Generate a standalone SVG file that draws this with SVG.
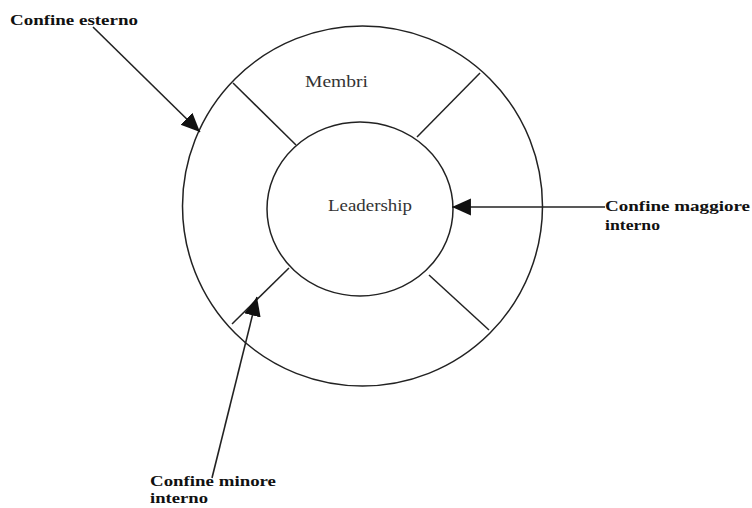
<svg xmlns="http://www.w3.org/2000/svg" width="752" height="508" viewBox="0 0 752 508">
<defs>
<style>
.shape{fill:none;stroke:#222;stroke-width:1.5}
.conn{fill:none;stroke:#222;stroke-width:1.6}
.lbl{font-family:"Liberation Serif","Times New Roman",serif;font-weight:bold;font-size:15px;fill:#111}
.inner{font-family:"Liberation Serif","Times New Roman",serif;font-size:16px;fill:#333}
</style>
<marker id="ah" markerUnits="userSpaceOnUse" markerWidth="20" markerHeight="20" viewBox="0 -9 19 18" refX="18" refY="0" orient="auto">
<path d="M0,-8 L18,0 L0,8 z" fill="#111"/>
</marker>
</defs>
<rect width="752" height="508" fill="#fff"/>
<g id="outer">
<circle class="shape" cx="362.5" cy="206" r="180"/>
<line class="shape" x1="233" y1="83" x2="296" y2="145"/>
<line class="shape" x1="480" y1="73" x2="417" y2="137"/>
<line class="shape" x1="429" y1="275" x2="489" y2="330"/>
<line class="shape" x1="289" y1="268" x2="232" y2="324"/>
<text class="inner" x="305" y="87" textLength="63" lengthAdjust="spacingAndGlyphs">Membri</text>
</g>
<g id="inner">
<ellipse class="shape" cx="360" cy="209" rx="93" ry="87"/>
<text class="inner" x="328" y="211" textLength="84" lengthAdjust="spacingAndGlyphs">Leadership</text>
</g>
<g id="connectors">
<line class="conn" x1="93" y1="27" x2="200" y2="132" marker-end="url(#ah)"/>
<line class="conn" x1="605" y1="207" x2="452" y2="207" marker-end="url(#ah)"/>
<line class="conn" x1="212" y1="478" x2="257" y2="297" marker-end="url(#ah)"/>
</g>
<g id="label-esterno">
<text class="lbl" x="10" y="25" textLength="128" lengthAdjust="spacingAndGlyphs">Confine esterno</text>
</g>
<g id="label-maggiore">
<text class="lbl" x="605" y="211" textLength="145" lengthAdjust="spacingAndGlyphs">Confine maggiore</text>
<text class="lbl" x="605" y="230" textLength="55" lengthAdjust="spacingAndGlyphs">interno</text>
</g>
<g id="label-minore">
<text class="lbl" x="150" y="486" textLength="126" lengthAdjust="spacingAndGlyphs">Confine minore</text>
<text class="lbl" x="150" y="503" textLength="58" lengthAdjust="spacingAndGlyphs">interno</text>
</g>
</svg>
